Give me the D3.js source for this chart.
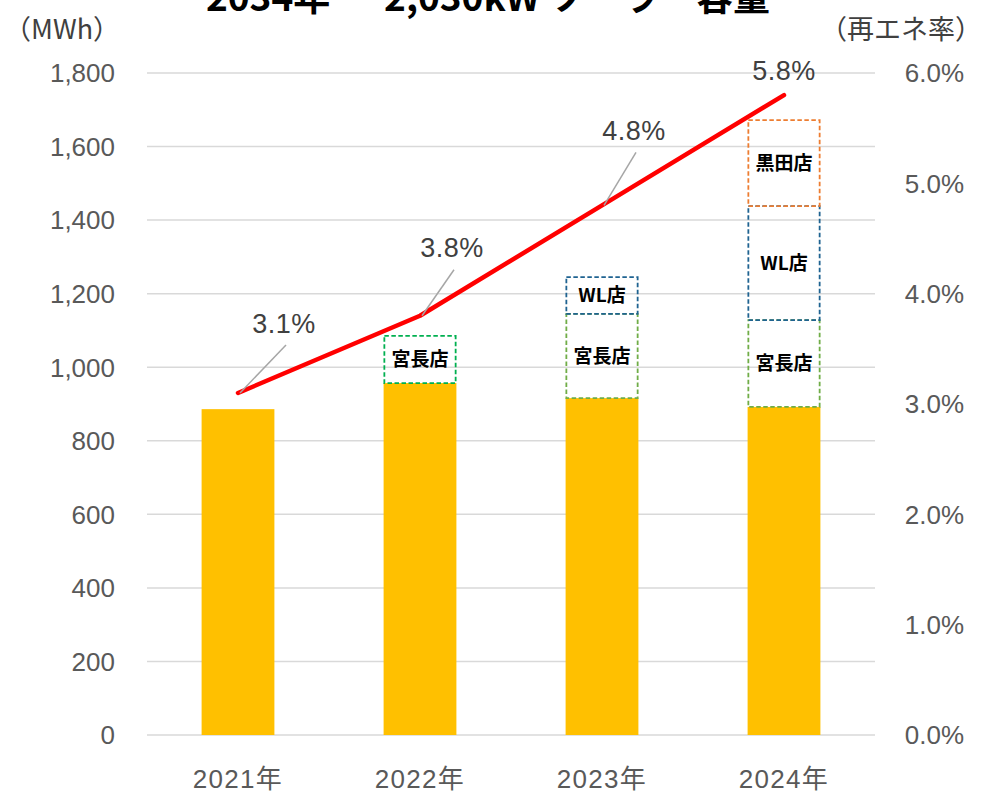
<!DOCTYPE html>
<html>
<head>
<meta charset="utf-8">
<script src="https://cdn.jsdelivr.net/npm/d3@7"></script>
<style>
  body { margin: 0; background: #fff; }
  text { font-family: "Liberation Sans", "Noto Sans CJK JP", sans-serif; }
  .jp { font-family: "Noto Sans CJK JP", sans-serif; }
</style>
</head>
<body>
<div id="chart"></div>
<script>
const years = ["2021年", "2022年", "2023年", "2024年"];
const baseValues = [886, 957, 916, 892];
const miyanaga = [0, 128, 229, 236];
const wl = [0, 0, 100, 310];
const kuroda = [0, 0, 0, 234];
const renewRate = [3.1, 3.8, 4.8, 5.8];
const leftTicks = [0, 200, 400, 600, 800, 1000, 1200, 1400, 1600, 1800];
const rightTicks = [0, 1, 2, 3, 4, 5, 6];

const width = 983, height = 796;
const margin = { top: 73, right: 108, bottom: 61, left: 147 };

const svg = d3.select("#chart").append("svg")
    .attr("width", width)
    .attr("height", height);

const x = d3.scaleBand()
    .domain(years)
    .range([margin.left, width - margin.right])
    .paddingInner(0.6)
    .paddingOuter(0.3);

const y = d3.scaleLinear()
    .domain([0, 1800])
    .range([height - margin.bottom, margin.top]);

const yr = d3.scaleLinear()
    .domain([0, 6])
    .range([height - margin.bottom, margin.top]);

// title, cut off at the top edge as in the source image
svg.append("text")
    .attr("class", "jp")
    .attr("x", 488).attr("y", 11)
    .attr("text-anchor", "middle")
    .style("font-size", "37px")
    .style("font-weight", "bold")
    .text("2034年 ー 2,030kW ソーラー容量");

// gridlines
svg.append("g")
    .selectAll("line")
    .data(leftTicks)
    .join("line")
    .attr("x1", margin.left)
    .attr("x2", width - margin.right)
    .attr("y1", d => y(d))
    .attr("y2", d => y(d))
    .attr("stroke", "#d9d9d9")
    .attr("stroke-width", 1.5);

// left axis labels
svg.append("g")
    .selectAll("text")
    .data(leftTicks)
    .join("text")
    .attr("x", 115)
    .attr("y", d => y(d))
    .attr("dy", "0.36em")
    .attr("text-anchor", "end")
    .attr("fill", "#595959")
    .style("font-size", "26px")
    .text(d => d3.format(",")(d));

// right axis labels
svg.append("g")
    .selectAll("text")
    .data(rightTicks)
    .join("text")
    .attr("x", 964)
    .attr("y", d => yr(d))
    .attr("dy", "0.36em")
    .attr("text-anchor", "end")
    .attr("fill", "#595959")
    .style("font-size", "26px")
    .text(d => d.toFixed(1) + "%");

// x labels
svg.append("g")
    .selectAll("text")
    .data(years)
    .join("text")
    .attr("x", d => x(d) + x.bandwidth() / 2)
    .attr("y", 779)
    .attr("dy", "0.36em")
    .attr("text-anchor", "middle")
    .attr("fill", "#595959")
    .style("font-size", "26px")
    .style("letter-spacing", "1.3px")
    .text(d => d);

svg.append("text")
    .attr("class", "jp")
    .attr("x", 4).attr("y", 39)
    .attr("fill", "#404040")
    .style("font-size", "27px")
    .text("（MWh）");

svg.append("text")
    .attr("class", "jp")
    .attr("x", 982).attr("y", 39)
    .attr("text-anchor", "end")
    .attr("fill", "#404040")
    .style("font-size", "27px")
    .text("（再エネ率）");

// base bars
svg.append("g")
    .selectAll("rect")
    .data(years)
    .join("rect")
    .attr("x", d => x(d))
    .attr("width", x.bandwidth())
    .attr("y", (d, i) => y(baseValues[i]))
    .attr("height", (d, i) => y(0) - y(baseValues[i]))
    .attr("fill", "#FFC000");

// dashed additions per store
const layers = [
    { name: "宮長店", values: miyanaga, colors: ["#70AD47", "#00B050", "#70AD47", "#70AD47"] },
    { name: "WL店", values: wl, colors: ["#1F6391", "#1F6391", "#1F6391", "#1F6391"] },
    { name: "黒田店", values: kuroda, colors: ["#ED7D31", "#ED7D31", "#ED7D31", "#ED7D31"] }
];

const stackTop = baseValues.slice();
layers.forEach(layer => {
    const segs = years.map((yrName, i) => {
        const y0 = stackTop[i];
        const y1 = y0 + layer.values[i];
        stackTop[i] = y1;
        return { year: yrName, y0, y1, color: layer.colors[i], v: layer.values[i] };
    }).filter(s => s.v > 0);

    const g = svg.append("g");
    g.selectAll("rect")
        .data(segs)
        .join("rect")
        .attr("x", d => x(d.year) + 0.75)
        .attr("width", x.bandwidth() - 1.5)
        .attr("y", d => y(d.y1))
        .attr("height", d => y(d.y0) - y(d.y1))
        .attr("fill", "none")
        .attr("stroke", d => d.color)
        .attr("stroke-width", 1.8)
        .attr("stroke-dasharray", "4.5,2.5");

    g.selectAll("text")
        .data(segs)
        .join("text")
        .attr("class", "jp")
        .attr("x", d => x(d.year) + x.bandwidth() / 2)
        .attr("y", d => (y(d.y0) + y(d.y1)) / 2)
        .attr("dy", "0.36em")
        .attr("text-anchor", "middle")
        .attr("fill", "#000")
        .style("font-size", "19px")
        .style("font-weight", "bold")
        .text(layer.name);
});

// renewable energy rate line
const cx = d => x(d) + x.bandwidth() / 2;
const line = d3.line()
    .x((d, i) => cx(years[i]))
    .y(d => yr(d));

svg.append("path")
    .datum(renewRate)
    .attr("d", line)
    .attr("fill", "none")
    .attr("stroke", "#FF0000")
    .attr("stroke-width", 4.5)
    .attr("stroke-linecap", "round")
    .attr("stroke-linejoin", "round");

// data labels with leader lines
const labelOffsets = [[46, -70], [32, -68], [32, -75], [0, -25]];
svg.append("g")
    .selectAll("line")
    .data(renewRate.slice(0, 3))
    .join("line")
    .attr("x1", (d, i) => cx(years[i]) + 2)
    .attr("y1", d => yr(d))
    .attr("x2", (d, i) => cx(years[i]) + labelOffsets[i][0] + 2)
    .attr("y2", (d, i) => yr(d) + labelOffsets[i][1] + 22)
    .attr("stroke", "#a6a6a6")
    .attr("stroke-width", 1.5);

svg.append("g")
    .selectAll("text")
    .data(renewRate)
    .join("text")
    .attr("x", (d, i) => cx(years[i]) + labelOffsets[i][0])
    .attr("y", (d, i) => yr(d) + labelOffsets[i][1])
    .attr("dy", "0.36em")
    .attr("text-anchor", "middle")
    .attr("fill", "#404040")
    .style("font-size", "27px")
    .style("letter-spacing", "0.5px")
    .text(d => d.toFixed(1) + "%");
</script>
</body>
</html>
